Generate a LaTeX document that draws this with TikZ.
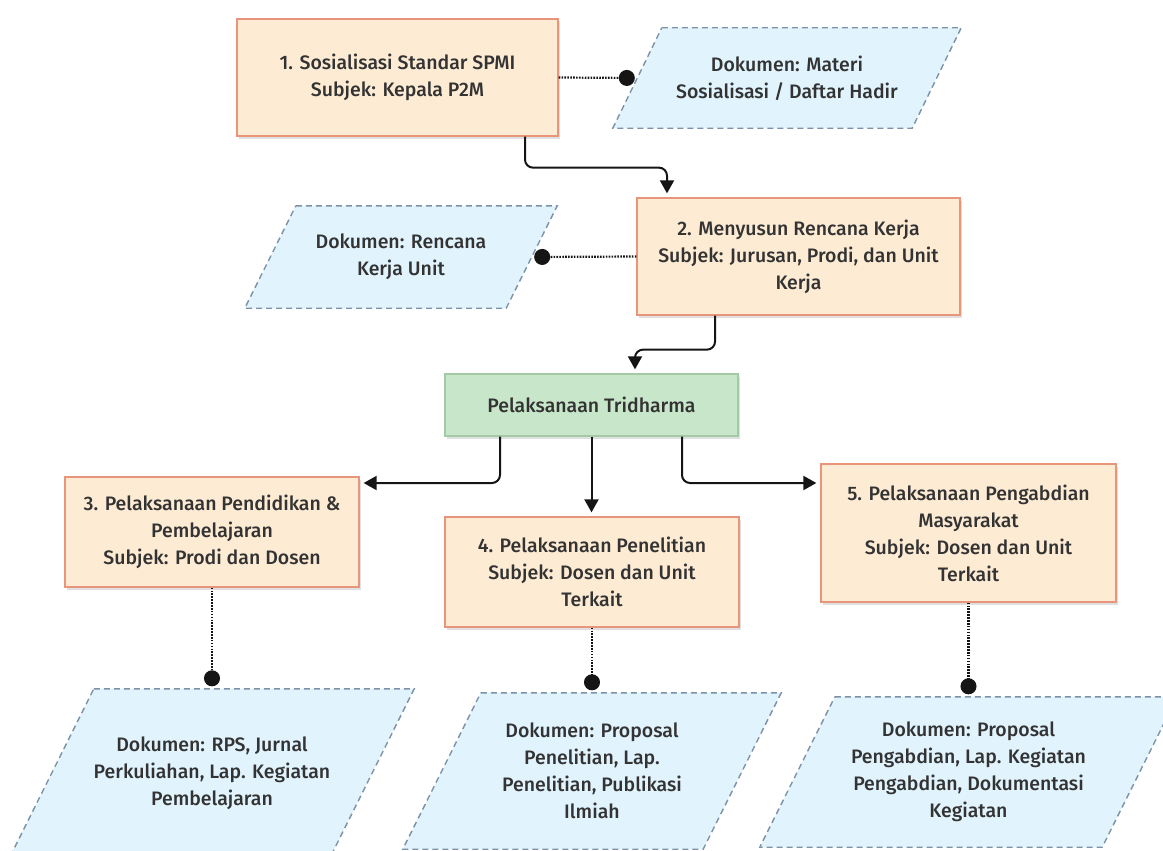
\documentclass[tikz,border=0pt]{standalone}
\usepackage{fontspec}
\setmainfont{Fira Sans}[UprightFont={* Medium}]
\usetikzlibrary{arrows.meta,shadows,backgrounds,calc}
\definecolor{procfill}{HTML}{FDEBD4}
\definecolor{procline}{HTML}{E8957C}
\definecolor{grfill}{HTML}{C8E6C9}
\definecolor{grline}{HTML}{A3C9A5}
\definecolor{docfill}{HTML}{E1F3FD}
\definecolor{docline}{HTML}{7D92A8}
\definecolor{txt}{HTML}{333333}
\definecolor{ink}{HTML}{151515}
\newcommand\docshape[2]{%
  \path[docbox] ([xshift=#2/2]#1.north west) -- ([xshift=#2/2]#1.north east)
    -- ([xshift=-#2/2]#1.south east) -- ([xshift=-#2/2]#1.south west) -- cycle;}
\begin{document}
\begin{tikzpicture}[x=1pt,y=-1pt,
  every node/.style={font=\fontsize{19.5}{27}\selectfont, text=txt, align=center, inner sep=0pt},
  proc/.style={draw=procline, fill=procfill, line width=1.3pt,
    drop shadow={shadow xshift=2pt, shadow yshift=-2.5pt, opacity=0.12, fill=black}},
  green/.style={draw=grline, fill=grfill, line width=1.3pt,
    drop shadow={shadow xshift=2pt, shadow yshift=-2.5pt, opacity=0.12, fill=black}},
  doc/.style={draw=none},
  docbox/.style={draw=docline, fill=docfill, line width=1.4pt, dash pattern=on 6pt off 4pt},
  flow/.style={draw=ink, line width=2pt, rounded corners=8pt, shorten >=4pt,
    -{Triangle[length=13pt,width=14pt]}},
  dotline/.style={draw=ink, line width=2.2pt, dash pattern=on 1.6pt off 1.3pt, shorten >=2.5pt,
    -{Circle[length=16pt]}}]
\useasboundingbox (0,0) rectangle (1163,851);
\clip (0,0) rectangle (1163,851);

% process boxes
\node[proc, minimum width=321, minimum height=117] (b1) at (397.5,77.5)
  {1. Sosialisasi Standar SPMI\\Subjek: Kepala P2M};
\node[proc, minimum width=323, minimum height=117] (b2) at (798.5,256.5)
  {2. Menyusun Rencana Kerja\\Subjek: Jurusan, Prodi, dan Unit\\Kerja};
\node[green, minimum width=293, minimum height=62] (g) at (591.5,405)
  {Pelaksanaan Tridharma};
\node[proc, minimum width=294, minimum height=110] (b3) at (212,532)
  {3. Pelaksanaan Pendidikan \&\\Pembelajaran\\Subjek: Prodi dan Dosen};
\node[proc, minimum width=294, minimum height=110] (b4) at (592,572)
  {4. Pelaksanaan Penelitian\\Subjek: Dosen dan Unit\\Terkait};
\node[proc, minimum width=295, minimum height=138] (b5) at (968.5,533)
  {5. Pelaksanaan Pengabdian\\Masyarakat\\Subjek: Dosen dan Unit\\Terkait};

% document nodes (text), shapes drawn on background
\node[doc, minimum width=299, minimum height=100] (p1) at (787,78)
  {Dokumen: Materi\\Sosialisasi / Daftar Hadir};
\node[doc, minimum width=261, minimum height=102] (p2) at (401,257)
  {Dokumen: Rencana\\Kerja Unit};
\node[doc, minimum width=320, minimum height=168] (p3) at (212,773)
  {Dokumen: RPS, Jurnal\\Perkuliahan, Lap. Kegiatan\\Pembelajaran};
\node[doc, minimum width=300, minimum height=156] (p4) at (592,771)
  {Dokumen: Proposal\\Penelitian, Lap.\\Penelitian, Publikasi\\Ilmiah};
\node[doc, minimum width=342, minimum height=150] (p5) at (968.5,772)
  {Dokumen: Proposal\\Pengabdian, Lap. Kegiatan\\Pengabdian, Dokumentasi\\Kegiatan};

\begin{scope}[on background layer]
  \fill[white] (0,0) rectangle (1163,851);
  \docshape{p1}{49}
  \docshape{p2}{51}
  \docshape{p3}{84}
  \docshape{p4}{78}
  \docshape{p5}{75}
\end{scope}

% flow arrows
\draw[flow] ([xshift=127.5pt]b1.south) -- ++(0,31) -| ([xshift=-131.5pt]b2.north);
\draw[flow] ([xshift=-83.5pt]b2.south) -- ++(0,34) -| ([xshift=43.5pt]g.north);
\draw[flow] ([xshift=-91.5pt]g.south) |- ([yshift=49pt]b3.east);
\draw[flow] (g.south) -- (g.south |- b4.north);
\draw[flow] ([xshift=90.5pt]g.south) |- ([yshift=50pt]b5.west);

% document links
\draw[dotline] (b1.east) -- (p1.west);
\draw[dotline] (b2.west) -- (p2.east);
\draw[dotline] (b3.south) -- (b3.south |- p3.north);
\draw[dotline] (b4.south) -- (b4.south |- p4.north);
\draw[dotline] (b5.south) -- (b5.south |- p5.north);
\end{tikzpicture}
\end{document}
